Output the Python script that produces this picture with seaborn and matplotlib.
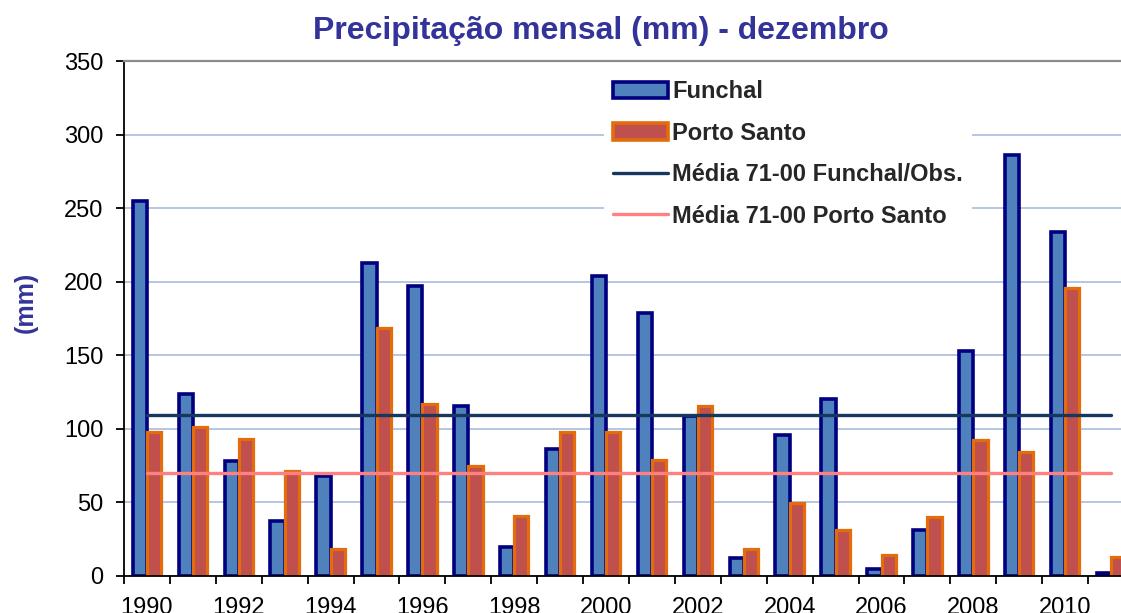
import numpy as np
import pandas as pd
import seaborn as sns
import matplotlib.pyplot as plt
from matplotlib.patches import Patch
from matplotlib.lines import Line2D

# Dados (mm) - dezembro
anos = list(range(1990, 2012))
funchal = [255, 124, 78, 37.5, 68, 213, 197, 115.5, 20, 86, 204,
           179, 108.5, 12, 95.5, 120, 5, 31, 153, 286, 233.5, 2]
porto_santo = [98, 101, 93, 71.5, 18.5, 168.5, 117, 75, 41, 98, 98,
               79, 115.5, 18.5, 49.5, 31, 14.5, 40, 92.5, 84.5, 195.5, 13]
media_funchal = 109.5
media_porto_santo = 70
estacoes = ['Funchal', 'Porto Santo']
yticks = [0, 50, 100, 150, 200, 250, 300, 350]

df = pd.DataFrame({
    'ano': [str(a) for a in anos] * 2,
    'estacao': [estacoes[0]] * len(anos) + [estacoes[1]] * len(anos),
    'mm': funchal + porto_santo,
})

sns.set_theme(style='white')
plt.rcParams['font.family'] = ['Liberation Sans', 'DejaVu Sans']

fig = plt.figure(figsize=(11.21, 6.13), dpi=100)
# eixo prolonga-se para la da margem direita (grafico cortado no original)
ax = fig.add_axes([124 / 1121, 37 / 613, 1010 / 1121, 515 / 613])

fills = ['#4F81BD', '#C0504D']
edges = ['#000080', '#E46C0A']
sns.barplot(data=df, x='ano', y='mm', hue='estacao', palette=fills,
            width=0.62, saturation=1, errorbar=None, legend=False, ax=ax)
for cont, ec, lw in zip(ax.containers, edges, [2.6, 2.3]):
    for p in cont:
        p.set_edgecolor(ec)
        p.set_linewidth(lw)

pos = np.arange(len(anos))
ax.plot(pos, np.full(len(anos), media_funchal), color='#17375E', lw=2.4, zorder=5)
ax.plot(pos, np.full(len(anos), media_porto_santo), color='#FF8080', lw=2.4, zorder=5)

ax.set_xlim(-0.5, len(anos) - 0.5)
ax.set_ylim(0, 350)
ax.set_yticks(yticks)
ax.set_xticks(pos[::2])
ax.set_xticklabels([str(a) for a in anos[::2]])
ax.set_xticks(np.arange(-0.5, len(anos), 1), minor=True)
ax.tick_params(axis='x', which='major', length=0, pad=15, labelsize=17, colors='black')
ax.tick_params(axis='x', which='minor', length=6, width=1.3, direction='out', bottom=True, color='black')
ax.tick_params(axis='y', length=6, width=1.3, direction='out', left=True, pad=9, labelsize=17, colors='black')
ax.set_xlabel('')
ax.set_ylabel('')

ax.yaxis.grid(True, color='#A9BCDB', lw=1.2)
ax.set_axisbelow(True)
for s in ['left', 'bottom']:
    ax.spines[s].set_color('black')
    ax.spines[s].set_linewidth(1.3)
ax.spines['top'].set_color('#8C8C8C')
ax.spines['top'].set_linewidth(1.6)
ax.spines['right'].set_visible(False)

handles = [
    Patch(facecolor=fills[0], edgecolor=edges[0], linewidth=2.6),
    Patch(facecolor=fills[1], edgecolor=edges[1], linewidth=2.6),
    Line2D([], [], color='#17375E', lw=2.4),
    Line2D([], [], color='#FF8080', lw=2.4),
]
labels = ['Funchal', 'Porto Santo', 'Média 71-00 Funchal/Obs.', 'Média 71-00 Porto Santo']
leg = ax.legend(handles, labels, loc='upper left',
                bbox_to_anchor=(604 / 1121, 1 - 71 / 613), bbox_transform=fig.transFigure,
                frameon=True, facecolor='white', edgecolor='none', framealpha=1,
                fancybox=False, borderpad=0.4, borderaxespad=0,
                handlelength=2.33, handletextpad=0.15, labelspacing=0.78,
                prop={'weight': 'bold', 'size': 17})
leg.set_zorder(10)

fig.text(601 / 1121, 1 - 39 / 613, 'Precipitação mensal (mm) - dezembro',
         ha='center', va='baseline', fontsize=23, fontweight='bold', color='#333399')
fig.text(26 / 1121, 1 - 302 / 613, '(mm)', rotation=90, ha='center', va='center',
         fontsize=18, fontweight='bold', color='#333399')

fig.savefig('out.png', dpi=100)
